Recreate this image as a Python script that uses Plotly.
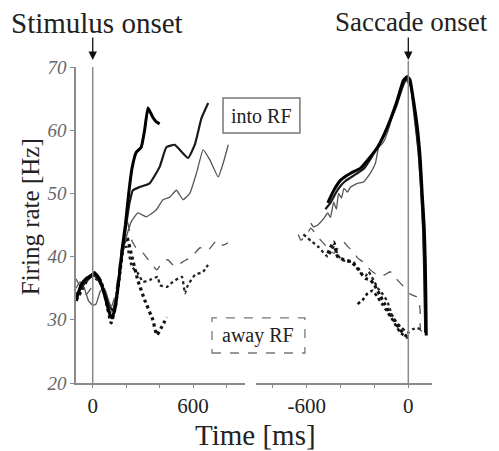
import plotly.graph_objects as go

# ---------------- data: left panel (aligned to stimulus onset) ----------------
L_into_thick_t = [-100, -70, -40, -10, 10, 40, 70, 100, 115, 135, 155, 175, 195, 215, 235, 260, 290, 310, 330, 345, 360, 380, 400]
L_into_thick = [33.0, 35.5, 36.5, 37.0, 37.5, 36.5, 34.0, 31.0, 30.3, 32.0, 36.0, 41.0, 45.0, 50.0, 54.0, 56.5, 57.3, 60.0, 63.5, 62.8, 62.0, 61.3, 61.0]

L_into_med_t = [-100, -70, -40, -10, 10, 40, 70, 100, 120, 140, 160, 180, 200, 220, 240, 280, 340, 400, 440, 490, 520, 570, 610, 650, 690]
L_into_med = [33.5, 35.0, 36.0, 36.8, 37.0, 36.0, 34.5, 32.0, 31.5, 33.5, 37.5, 41.0, 45.0, 48.5, 50.5, 51.0, 51.6, 54.2, 57.3, 57.7, 56.9, 55.6, 57.7, 61.9, 64.3]

L_into_thin_t = [-100, -75, -50, -25, 0, 20, 45, 70, 95, 120, 145, 170, 200, 230, 270, 320, 380, 420, 460, 500, 540, 580, 620, 660, 700, 750, 780, 810]
L_into_thin = [35.0, 36.0, 35.0, 33.0, 32.3, 32.5, 34.5, 35.0, 33.0, 31.5, 35.0, 39.5, 43.0, 45.5, 46.9, 46.3, 47.4, 49.0, 49.4, 50.5, 49.0, 50.0, 53.2, 56.9, 55.3, 52.6, 54.8, 57.7]

L_away_thick_t = [-100, -70, -40, -10, 20, 50, 80, 110, 135, 160, 185, 205, 234, 269, 311, 359, 383, 413, 443]
L_away_thick = [33.0, 34.5, 36.0, 37.0, 37.0, 36.0, 33.0, 29.5, 32.0, 37.0, 42.0, 43.0, 40.0, 36.3, 33.1, 30.0, 27.6, 28.9, 30.4]

L_away_med_t = [-100, -70, -40, -10, 20, 50, 80, 110, 135, 160, 185, 205, 234, 269, 300, 341, 389, 401, 443, 479, 533, 551, 569, 611, 659, 689]
L_away_med = [34.0, 35.0, 36.5, 37.0, 36.5, 35.5, 33.5, 31.0, 32.5, 37.0, 41.5, 41.5, 38.4, 37.4, 36.0, 36.3, 36.8, 35.5, 35.2, 36.0, 36.8, 34.2, 35.5, 37.1, 37.6, 38.7]

L_away_thin_t = [-100, -70, -40, -10, 20, 50, 80, 110, 135, 160, 185, 204, 234, 269, 299, 341, 383, 419, 449, 491, 539, 593, 641, 689, 743, 778, 808]
L_away_thin = [36.5, 35.0, 34.0, 35.0, 36.5, 36.0, 34.0, 32.0, 34.0, 39.0, 43.5, 45.8, 42.5, 41.0, 40.6, 39.2, 37.9, 39.2, 39.5, 38.4, 39.2, 40.0, 41.4, 41.0, 42.6, 41.8, 42.2]

# ---------------- data: right panel (aligned to saccade onset) ----------------
R_into_thick_t = [-476, -440, -400, -341, -282, -224, -182, -124, -65, -29, -6, 10, 24, 53, 71, 82, 94, 100, 104, 106]
R_into_thick = [48.5, 50.5, 52.1, 53.2, 54.0, 55.8, 57.3, 60.5, 64.8, 67.9, 68.5, 68.0, 65.9, 60.5, 55.3, 50.0, 44.7, 39.5, 33.0, 27.5]

R_into_med_t = [-490, -460, -430, -400, -370, -341, -300, -260, -224, -200, -176, -150, -124, -95, -65, -35, -10, 15, 40, 60, 75, 88, 95, 100]
R_into_med = [47.5, 48.5, 50.0, 51.2, 52.0, 52.5, 53.2, 54.0, 55.4, 56.5, 57.5, 58.8, 60.3, 62.2, 64.3, 66.8, 68.2, 67.0, 62.0, 57.0, 51.0, 44.0, 36.0, 28.0]

R_into_thin_t = [-576, -560, -535, -500, -476, -460, -441, -425, -412, -395, -380, -360, -341, -300, -265, -224, -194, -176, -147, -124, -106, -88, -47, -18, 10, 35, 60, 75, 88, 95, 98]
R_into_thin = [45.3, 44.7, 45.0, 46.0, 46.9, 46.2, 48.6, 47.5, 50.0, 49.3, 50.8, 50.2, 51.0, 51.6, 51.8, 53.2, 54.8, 57.2, 58.1, 59.6, 61.1, 62.9, 65.9, 68.0, 67.0, 62.0, 56.0, 50.0, 43.0, 35.0, 28.0]

R_away_thick_t = [-476, -441, -418, -380, -341, -300, -271, -250, -224, -200, -170, -140, -110, -80, -50, -20, 5]
R_away_thick = [40.5, 42.3, 40.0, 39.5, 39.2, 38.2, 37.1, 36.5, 36.3, 35.5, 34.0, 32.5, 31.0, 29.8, 28.5, 27.6, 27.2]

R_away_frag_t = [-300, -271, -240, -210, -180, -150, -130, -106, -88, -65, -47, -29, -10, 12]
R_away_frag = [32.5, 33.1, 34.2, 34.6, 33.5, 32.3, 31.5, 30.5, 29.8, 28.7, 28.0, 27.6, 27.2, 27.3]

R_away_med_t = [-620, -576, -530, -476, -441, -400, -360, -324, -300, -282, -250, -235, -206, -180, -150, -125, -106, -88, -65, -47, -20, 0, 25, 53, 70, 88]
R_away_med = [43.5, 42.5, 41.5, 40.0, 41.5, 39.6, 39.2, 39.2, 38.0, 37.4, 37.0, 37.6, 36.3, 35.0, 34.0, 33.0, 31.5, 30.3, 29.5, 28.9, 28.3, 28.0, 28.5, 28.7, 28.5, 28.4]

R_away_thin_t = [-650, -635, -600, -576, -545, -518, -480, -440, -410, -382, -355, -329, -300, -270, -240, -224, -195, -165, -135, -106, -75, -47, -20, 0, 25, 53, 65, 70, 72, 88]
R_away_thin = [43.5, 42.6, 43.5, 44.5, 43.5, 42.6, 41.5, 40.5, 41.5, 42.3, 41.5, 41.0, 39.8, 39.2, 38.3, 37.9, 37.3, 36.8, 37.2, 37.6, 36.6, 35.8, 35.0, 34.2, 33.9, 33.6, 32.5, 31.5, 28.4, 28.0]

y_ticks = [20, 30, 40, 50, 60, 70]
xl_ticks = [0, 200, 400, 600, 800]
xl_text = ["0", "", "", "600", ""]
xr_ticks = [-800, -600, -400, -200, 0]
xr_text = ["", "-600", "", "", "0"]

SERIF = "Liberation Serif"
AX = "#8a8a8a"

fig = go.Figure()

def add(t, v, xa, color, width, dash):
    fig.add_trace(go.Scatter(x=t, y=v, xaxis=xa, yaxis="y", mode="lines",
                             line=dict(color=color, width=width, dash=dash, shape="spline", smoothing=0.4),
                             hoverinfo="skip", showlegend=False))

# left panel
add(L_away_thin_t, L_away_thin, "x", "#555555", 1.3, "dash")
add(L_away_med_t, L_away_med, "x", "#222222", 2.3, "dot")
add(L_away_thick_t, L_away_thick, "x", "#111111", 3.2, "dot")
add(L_into_thin_t, L_into_thin, "x", "#555555", 1.3, "solid")
add(L_into_med_t, L_into_med, "x", "#1a1a1a", 2.2, "solid")
add(L_into_thick_t, L_into_thick, "x", "#000000", 3.0, "solid")
# right panel
add(R_away_thin_t, R_away_thin, "x2", "#555555", 1.3, "dash")
add(R_away_med_t, R_away_med, "x2", "#222222", 2.3, "dot")
add(R_away_thick_t, R_away_thick, "x2", "#111111", 3.2, "dot")
add(R_away_frag_t, R_away_frag, "x2", "#111111", 2.6, "dot")
add(R_into_thin_t, R_into_thin, "x2", "#555555", 1.3, "solid")
add(R_into_med_t, R_into_med, "x2", "#1a1a1a", 2.2, "solid")
add(R_into_thick_t, R_into_thick, "x2", "#000000", 3.0, "solid")

fig.update_layout(
    width=491, height=443,
    margin=dict(l=68, r=67, t=59, b=68),
    paper_bgcolor="white", plot_bgcolor="white",
    xaxis=dict(domain=[0, 0.4747], range=[-100, 910], anchor="y",
               tickvals=xl_ticks, ticktext=xl_text, ticks="outside", ticklen=3, tickcolor=AX,
               showline=True, linecolor=AX, linewidth=1.5, showgrid=False, zeroline=False,
               tickfont=dict(family=SERIF, size=21, color="#222")),
    xaxis2=dict(domain=[0.5056, 1], range=[-900, 140], anchor="y",
                tickvals=xr_ticks, ticktext=xr_text, ticks="outside", ticklen=3, tickcolor=AX,
                showline=True, linecolor=AX, linewidth=1.5, showgrid=False, zeroline=False,
                tickfont=dict(family=SERIF, size=21, color="#222")),
    yaxis=dict(domain=[0, 1], range=[20, 70], anchor="x",
               tickvals=y_ticks, ticks="outside", ticklen=4, tickcolor=AX,
               showline=True, linecolor=AX, linewidth=1.5, showgrid=False, zeroline=False,
               tickfont=dict(family=SERIF, size=19, color="#666", style="italic")),
)

# onset lines
fig.add_shape(type="line", xref="x", yref="paper", x0=0, x1=0, y0=0, y1=1,
              line=dict(color=AX, width=1.5))
fig.add_shape(type="line", xref="x2", yref="paper", x0=0, x1=0, y0=0, y1=1.02,
              line=dict(color=AX, width=1.5))

# arrows
for xr in ("x", "x2"):
    fig.add_annotation(x=0, xref=xr, y=1.022, yref="paper", ax=0, ay=-24, text="",
                       showarrow=True, arrowhead=2, arrowsize=1.3, arrowwidth=1.3, arrowcolor="#111")

def label(x, y, text, size, angle=0):
    fig.add_annotation(x=x, y=y, xref="paper", yref="paper", text=text, textangle=angle,
                       xanchor="center", yanchor="middle", showarrow=False,
                       font=dict(family=SERIF, size=size, color="#222"))

label(0.059, 1.139, "Stimulus onset", 29)
label(0.943, 1.142, "Saccade onset", 27)
label(-0.129, 0.525, "Firing rate [Hz]", 25, -90)
label(0.503, -0.165, "Time [ms]", 29)

# legend boxes
fig.add_shape(type="rect", xref="paper", yref="paper", x0=0.413, x1=0.629, y0=0.791, y1=0.902,
              line=dict(color="#777", width=1.5), fillcolor="white")
label(0.521, 0.8465, "into RF", 20)
fig.add_shape(type="rect", xref="paper", yref="paper", x0=0.382, x1=0.643, y0=0.095, y1=0.206,
              line=dict(color="#777", width=1.3, dash="dash"), fillcolor="white")
label(0.5126, 0.150, "away RF", 20)

fig.write_html("out.html")
